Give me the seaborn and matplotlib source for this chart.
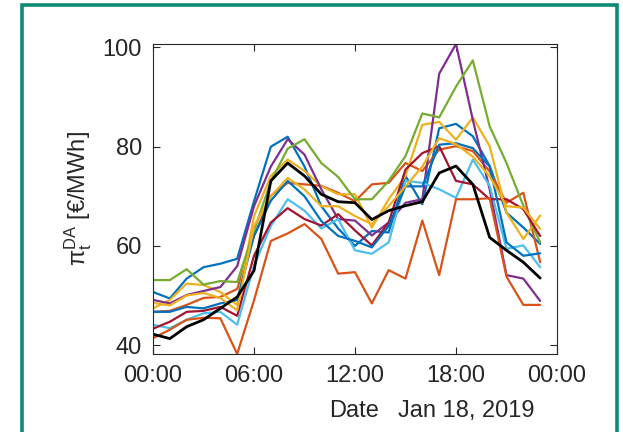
import numpy as np
import pandas as pd
import matplotlib
matplotlib.use("Agg")
import matplotlib.pyplot as plt
from matplotlib.patches import Rectangle
import seaborn as sns

sns.set_theme(style="white")
plt.rcParams['font.family'] = ['Liberation Sans', 'DejaVu Sans']
plt.rcParams['mathtext.fontset'] = 'custom'
plt.rcParams['mathtext.rm'] = 'Liberation Sans'
plt.rcParams['mathtext.it'] = 'Liberation Sans'

hours = list(range(24))
tick_pos = [0, 6, 12, 18, 24]
tick_labels = ["00:00", "06:00", "12:00", "18:00", "00:00"]

blue1 = [50.7, 49.4, 53.4, 55.7, 56.4, 57.4, 69.0, 80.0, 82.0, 76.0, 68.0, 63.5, 60.0, 63.0, 62.7, 74.1, 68.4, 83.7, 84.6, 82.1, 76.1, 66.7, 63.7, 60.4]
orange1 = [46.7, 46.9, 48.1, 49.5, 49.7, 51.3, 62.0, 70.1, 72.7, 72.4, 72.1, 70.7, 69.0, 72.4, 72.7, 76.7, 75.1, 79.4, 80.1, 79.1, 75.0, 68.7, 70.7, 56.7]
yellow1 = [47.4, 49.1, 52.4, 52.1, 50.7, 48.1, 66.0, 74.1, 77.4, 75.1, 72.0, 70.4, 70.4, 63.7, 69.4, 74.1, 84.4, 85.0, 81.4, 85.9, 80.1, 66.7, 61.4, 66.1]
purple1 = [49.1, 48.4, 50.1, 50.9, 51.7, 55.9, 68.0, 76.0, 81.5, 78.4, 71.4, 65.4, 65.1, 62.1, 64.7, 68.7, 69.4, 94.7, 100.7, 85.4, 71.4, 54.1, 53.4, 48.9]
green = [53.1, 53.1, 55.3, 52.2, 52.9, 52.7, 63.0, 73.0, 79.6, 81.5, 76.7, 73.9, 69.4, 69.4, 73.1, 78.1, 86.7, 85.9, 92.1, 97.4, 84.1, 76.7, 68.1, 60.7]
lightblue = [44.1, 43.4, 45.1, 46.4, 46.7, 44.1, 56.0, 64.0, 69.4, 67.1, 63.5, 65.4, 59.1, 58.4, 60.7, 73.1, 72.7, 71.4, 69.7, 77.4, 72.1, 59.4, 60.1, 55.7]
darkred = [43.3, 44.7, 46.7, 46.9, 47.7, 45.9, 58.0, 64.7, 67.6, 65.4, 64.1, 66.4, 63.1, 60.1, 64.7, 75.4, 78.7, 80.1, 73.1, 72.4, 69.4, 69.4, 67.4, 62.0]
blue2 = [46.7, 46.7, 47.7, 47.4, 48.4, 49.1, 62.0, 69.1, 73.1, 70.0, 65.0, 62.0, 61.0, 59.7, 64.0, 72.0, 72.0, 80.4, 80.7, 79.7, 76.0, 60.7, 58.0, 58.5]
orange2 = [41.4, 43.1, 45.1, 45.5, 45.4, 38.2, 49.0, 61.0, 62.5, 64.4, 61.4, 54.4, 54.7, 48.4, 55.1, 53.4, 65.1, 54.1, 69.4, 69.4, 69.6, 53.8, 48.1, 48.1]
purple2 = [41.9, 43.0, 45.0, 46.5, 47.0, 47.7, 58.0, 66.7, 66.1, 62.7, 56.7, 61.7, 56.1, 58.1, 62.0, 65.0, 66.0, 77.7, 70.7, 74.4, 72.7, 70.7, 69.4, 64.4]
yellow2 = [48.5, 48.0, 50.0, 50.5, 49.5, 47.0, 64.0, 70.0, 73.7, 71.4, 68.0, 68.0, 66.0, 64.4, 68.0, 72.0, 76.0, 81.7, 80.5, 78.0, 74.0, 68.0, 67.7, 63.4]
black = [42.2, 41.3, 43.7, 45.1, 47.4, 49.7, 55.0, 73.1, 76.7, 74.1, 70.4, 68.9, 68.7, 65.3, 67.1, 68.1, 68.9, 74.7, 76.1, 72.4, 61.7, 59.1, 56.7, 53.5]

series = {
    "s1": blue1, "s2": orange1, "s3": yellow1, "s4": purple1, "s5": green,
    "s6": lightblue, "s7": darkred, "s8": blue2, "s9": orange2, "s10": yellow2,
}
colors = ["#0072BD", "#D95319", "#EDB120", "#7E2F8E", "#77AC30",
          "#4DBEEE", "#A2142F", "#0072BD", "#D95319", "#EDB120"]

rows = []
for name, vals in series.items():
    for h, v in zip(hours, vals):
        rows.append({"hour": h, "price": v, "series": name})
df = pd.DataFrame(rows)
dfb = pd.DataFrame({"hour": hours, "price": black})

fig = plt.figure(figsize=(6.23, 4.32), dpi=100)
ax = fig.add_axes([153 / 623, 1 - 354 / 432, (557 - 153) / 623, (354 - 44) / 432])

sns.lineplot(data=df, x="hour", y="price", hue="series", palette=colors,
             linewidth=1.6, ax=ax, legend=False, estimator=None, sort=False)
sns.lineplot(data=dfb, x="hour", y="price", color="black", linewidth=2.0,
             ax=ax, legend=False, estimator=None)

ax.set_xlim(0, 24)
ax.set_ylim(38.2, 100.7)
ax.set_xticks(tick_pos)
ax.set_xticklabels(tick_labels)
ax.set_yticks([40, 60, 80, 100])
ax.tick_params(direction="in", length=5, width=0.8, color="#262626",
               labelsize=17, labelcolor="#262626", top=True, right=True,
               bottom=True, left=True, pad=8)
for s in ax.spines.values():
    s.set_visible(True)
    s.set_color("#262626")
    s.set_linewidth(0.8)
ax.set_xlabel("")
ax.set_ylabel(r"$\mathrm{\pi}_{\rm t}^{\rm DA}$ [€/MWh]", fontsize=17, color="#262626", labelpad=6)

fig.text(354 / 623, 1 - 411 / 432, "Date", ha="center", va="center",
         fontsize=17, color="#262626")
fig.text(535 / 623, 1 - 411 / 432, "Jan 18, 2019", ha="right", va="center",
         fontsize=17, color="#262626")

frame = Rectangle((22 / 623, -0.1), (617 - 22) / 623, 1.1 - 5 / 432,
                  transform=fig.transFigure, fill=False,
                  edgecolor="#108a74", linewidth=2.6, clip_on=False)
fig.patches.append(frame)

fig.savefig("out.png", dpi=100)
